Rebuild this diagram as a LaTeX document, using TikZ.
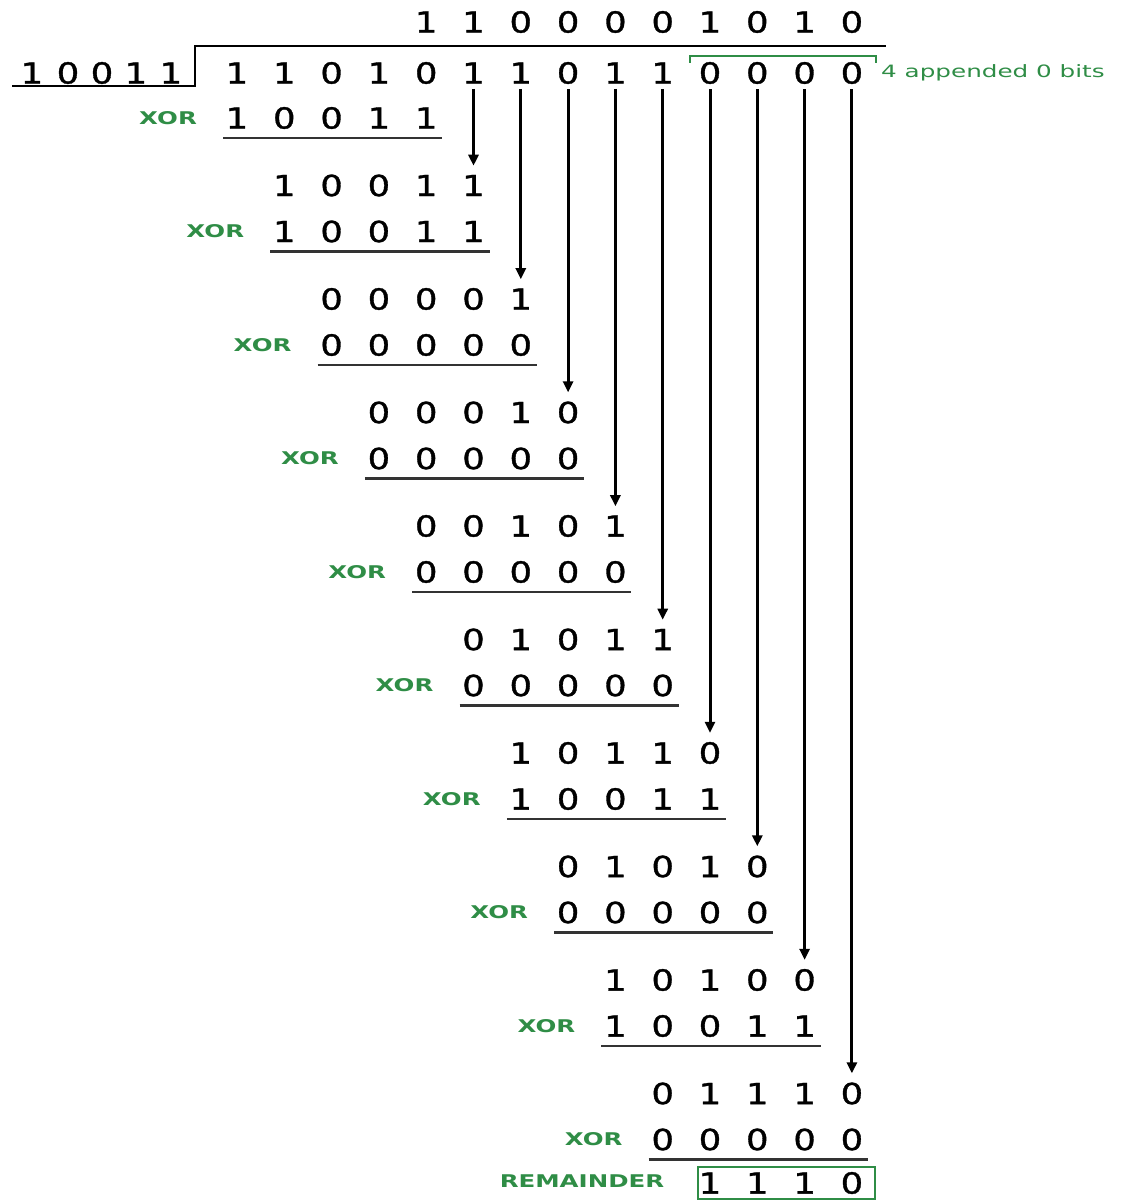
\documentclass[tikz,border=0pt]{standalone}
\usepackage{fontspec}
\setmainfont{DejaVu Sans}
\newfontfamily\digitfont{DejaVu Sans}[FakeStretch=1.22,FakeBold=1.2]
\newfontfamily\labelfont{DejaVu Sans}[FakeStretch=1.4]
\newfontfamily\notefont{DejaVu Sans}[FakeStretch=1.45]
\usetikzlibrary{arrows.meta,calc}
\definecolor{gfg}{RGB}{47,141,70}
\begin{document}
\begin{tikzpicture}[x=1pt,y=-1pt,
  bit/.style={font=\digitfont\fontsize{29}{29}\selectfont,inner sep=0pt,anchor=center},
  xorlbl/.style={font=\labelfont\bfseries\fontsize{17.5}{18}\selectfont,text=gfg,inner sep=0pt},
  note/.style={font=\notefont\fontsize{17}{17}\selectfont,text=gfg,inner sep=0pt,anchor=west},
  uline/.style={line width=2.4pt,draw=black!80},
  divline/.style={line width=2.2pt,draw=black},
  arr/.style={line width=3pt,draw=black,-{Triangle[length=11pt,width=10pt]},shorten <=5pt},
  greenline/.style={line width=2pt,draw=gfg}]
\useasboundingbox (0,0) rectangle (1123,1201);
% quotient
\foreach \b [count=\i from 4] in {1,1,0,0,0,0,1,0,1,0}
  \node[bit] (q\i) at ({237+47.3*\i},22) {\b};
% divisor
\foreach \b/\xx [count=\i from 0] in {1/32,0/68,0/102,1/136,1/171}
  \node[bit] (v\i) at (\xx,73) {\b};
% dividend
\foreach \b [count=\i from 0] in {1,1,0,1,0,1,1,0,1,1,0,0,0,0}
  \node[bit] (d\i) at ({237+47.3*\i},73) {\b};
% division bracket
\coordinate (bl) at (12,86);
\coordinate (bc) at (195,86);
\coordinate (bt) at (195,46);
\coordinate (br) at (886,46);
\draw[divline] (bl) -- (bc) -- (bt) -- (br);
% appended bits bracket
\coordinate (gl) at (690,63);
\coordinate (gr) at (876,63);
\draw[greenline] (gl) -- ++(0,-7) -| (gr);
\node[note] (app) at (881,73) {4 appended 0 bits};
% xor rows
\foreach \k/\a/\b/\c/\d/\e in {0/1/0/0/1/1,1/1/0/0/1/1,2/0/0/0/0/0,3/0/0/0/0/0,4/0/0/0/0/0,5/0/0/0/0/0,6/1/0/0/1/1,7/0/0/0/0/0,8/1/0/0/1/1,9/0/0/0/0/0}{
  \pgfmathsetmacro\yy{118+113.5*\k}
  \foreach \j/\v in {0/\a,1/\b,2/\c,3/\d,4/\e}
    \node[bit] (x\k c\j) at ({237+47.3*(\k+\j)},\yy) {\v};
  \node[xorlbl] (xl\k) at ([xshift=-69pt]x\k c0.center) {XOR};
  \draw[uline] ([shift={(-14,20)}]x\k c0.center) -- ([shift={(16,20)}]x\k c4.center);
}
% top rows
\foreach \k/\a/\b/\c/\d/\e in {1/1/0/0/1/1,2/0/0/0/0/1,3/0/0/0/1/0,4/0/0/1/0/1,5/0/1/0/1/1,6/1/0/1/1/0,7/0/1/0/1/0,8/1/0/1/0/0,9/0/1/1/1/0}{
  \pgfmathsetmacro\yy{118+113.5*\k-46}
  \foreach \j/\v in {0/\a,1/\b,2/\c,3/\d,4/\e}
    \node[bit] (t\k c\j) at ({237+47.3*(\k+\j)},\yy) {\v};
  \pgfmathtruncatemacro\col{\k+4}
  \draw[arr,shorten >=9pt] (d\col.south) -- (t\k c4.north);
}
% remainder
\foreach \b [count=\i from 0] in {1,1,1,0}
  \node[bit] (r\i) at ({237+47.3*(\i+10)},1183) {\b};
\coordinate (rb1) at (698,1167);
\coordinate (rb2) at (875,1199);
\draw[greenline] (rb1) rectangle (rb2);
\node[xorlbl] (rem) at (582,1181) {REMAINDER};
\end{tikzpicture}
\end{document}
